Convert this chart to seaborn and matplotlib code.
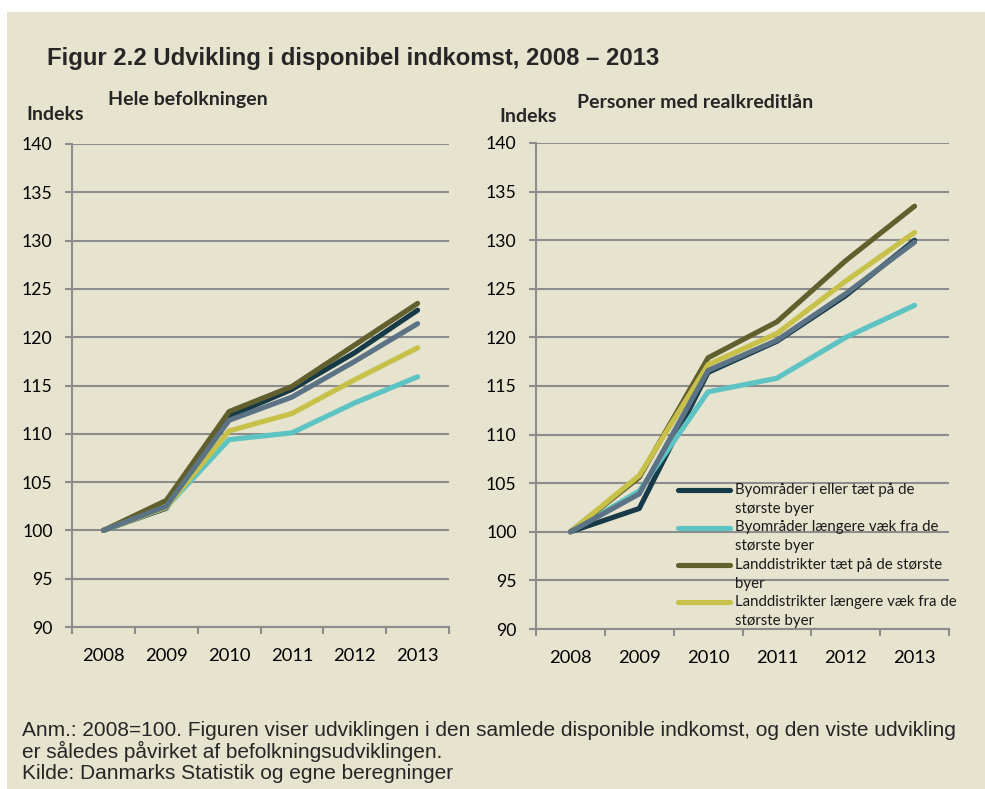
import numpy as np
import pandas as pd
import matplotlib
matplotlib.use("Agg")
import matplotlib.pyplot as plt
from matplotlib.patches import Rectangle
from matplotlib.legend_handler import HandlerLine2D
import seaborn as sns

years = ["2008", "2009", "2010", "2011", "2012", "2013"]
series = ["Byområder i eller tæt på de\nstørste byer",
          "Byområder længere væk fra de\nstørste byer",
          "Landdistrikter tæt på de største\nbyer",
          "Landdistrikter længere væk fra de\nstørste byer",
          "Hele landet"]

# Hele befolkningen
navy_l = [100, 102.3, 111.8, 114.6, 118.4, 122.8]
cyan_l = [100, 102.4, 109.4, 110.1, 113.2, 115.9]
olive_l = [100, 103.1, 112.3, 114.9, 119.2, 123.5]
yellow_l = [100, 102.4, 110.3, 112.1, 115.6, 118.9]
slate_l = [100, 102.5, 111.4, 113.8, 117.5, 121.4]

# Personer med realkreditlån
navy_r = [100, 102.4, 116.4, 119.6, 124.3, 130.0]
cyan_r = [100, 104.2, 114.4, 115.8, 120.0, 123.3]
olive_r = [100, 105.6, 117.9, 121.6, 127.9, 133.5]
yellow_r = [100, 105.8, 117.2, 120.4, 125.8, 130.8]
slate_r = [100, 103.9, 116.6, 119.7, 124.5, 129.8]

colors = ["#173A48", "#5EC3C3", "#615F2D", "#C7C14A", "#5B7384"]
bg = "#E6E3CE"
grid_col = "#8C8C8C"


def long_df(cols):
    rows = []
    for name, vals in zip(series, cols):
        for i, v in enumerate(vals):
            rows.append({"pos": i, "value": v, "serie": name})
    return pd.DataFrame(rows)


left_df = long_df([navy_l, cyan_l, olive_l, yellow_l, slate_l])
right_df = long_df([navy_r, cyan_r, olive_r, yellow_r, slate_r])

sns.set_theme(style="white")
plt.rcParams["font.family"] = ["Lato", "DejaVu Sans"]

fig = plt.figure(figsize=(9.85, 7.89), dpi=100)
fig.patch.set_facecolor("white")
fig.patches.append(Rectangle((7 / 985, 0), 1, 1 - 12 / 789, transform=fig.transFigure,
                             facecolor=bg, edgecolor="none", zorder=-10))

ax1 = fig.add_axes([72 / 985, 1 - 627 / 789, 377 / 985, 483 / 789])
ax2 = fig.add_axes([536 / 985, 1 - 629 / 789, 413 / 985, 486 / 789])

for ax, df in [(ax1, left_df), (ax2, right_df)]:
    ax.set_facecolor("none")
    sns.lineplot(data=df, x="pos", y="value", hue="serie", hue_order=series,
                 palette=colors, legend=False, ax=ax, linewidth=3.7,
                 solid_capstyle="round", solid_joinstyle="round")
    ax.set_xlim(-0.5, 5.5)
    ax.set_ylim(90, 140)
    ax.set_yticks(np.arange(90, 141, 5))
    ax.set_xticks(np.arange(-0.5, 6, 1))
    ax.set_xticklabels([])
    ax.set_xticks(range(6), minor=True)
    ax.set_xticklabels(years, minor=True)
    ax.set_xlabel("")
    ax.set_ylabel("")
    ax.grid(axis="y", color=grid_col, linewidth=1.5)
    ax.set_axisbelow(True)
    for s in ["top", "right"]:
        ax.spines[s].set_visible(False)
    for s in ["left", "bottom"]:
        ax.spines[s].set_color(grid_col)
        ax.spines[s].set_linewidth(1.5)
    ax.tick_params(axis="y", which="major", length=5, width=1.5, color=grid_col,
                   pad=9, labelsize=12.7, labelcolor="black", left=True)
    ax.tick_params(axis="x", which="major", length=5, width=1.5, color=grid_col,
                   direction="out", bottom=True)
    ax.tick_params(axis="x", which="minor", length=0, pad=15, labelsize=13.2,
                   labelcolor="black")


class FirstLineHandler(HandlerLine2D):
    def create_artists(self, legend, orig_handle, xdescent, ydescent, width,
                       height, fontsize, trans):
        arts = super().create_artists(legend, orig_handle, xdescent, ydescent,
                                      width, height, fontsize, trans)
        for a in arts:
            a.set_ydata(np.asarray(a.get_ydata()) + 0.62 * fontsize)
        return arts


handles = ax2.get_lines()[:4]
leg = ax2.legend(handles, series[:4], loc="upper left", bbox_to_anchor=(0.344, 0.301),
                 frameon=False, fontsize=10.8, handlelength=3.45, handletextpad=0.33,
                 labelspacing=0.3, borderpad=0, borderaxespad=0,
                 handler_map={h: FirstLineHandler() for h in handles})
for t in leg.get_texts():
    t.set_linespacing(1.45)
    t.set_color("#1a1a1a")

# titles and labels
fig.text(47 / 985, 1 - 59 / 789, "Figur 2.2 Udvikling i disponibel indkomst, 2008 \u2013 2013",
         family="Liberation Sans", weight="bold", fontsize=17.2, va="center", ha="left")
fig.text(108 / 985, 1 - 99 / 789, "Hele befolkningen", weight="bold", fontsize=14,
         va="center", ha="left")
fig.text(577 / 985, 1 - 103 / 789, "Personer med realkreditlån", weight="bold", fontsize=14,
         va="center", ha="left")
fig.text(55 / 985, 1 - 115 / 789, "Indeks", weight="bold", fontsize=14,
         va="center", ha="center")
fig.text(528 / 985, 1 - 117 / 789, "Indeks", weight="bold", fontsize=14,
         va="center", ha="center")

note = ("Anm.: 2008=100. Figuren viser udviklingen i den samlede disponible indkomst, og den viste udvikling\n"
        "er således påvirket af befolkningsudviklingen.\n"
        "Kilde: Danmarks Statistik og egne beregninger")
fig.text(22 / 985, 1 - 721 / 789, note, family="Liberation Sans", fontsize=15,
         va="top", ha="left", linespacing=1.08)

fig.savefig("out.png", dpi=100, facecolor=fig.get_facecolor())
